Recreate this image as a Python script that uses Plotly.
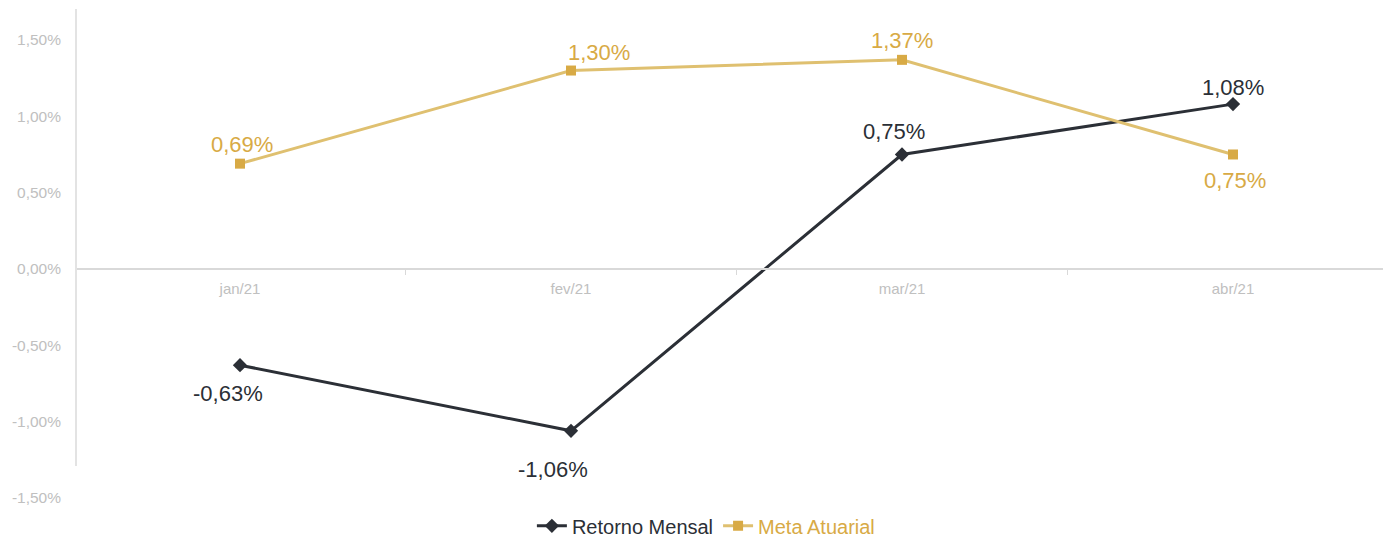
import plotly.graph_objects as go

categories = ["jan/21", "fev/21", "mar/21", "abr/21"]
retorno = [-0.63, -1.06, 0.75, 1.08]
meta = [0.69, 1.30, 1.37, 0.75]
y_ticks = [-1.5, -1.0, -0.5, 0.0, 0.5, 1.0, 1.5]

# label offsets in pixels (style only)
retorno_dx = [-12, -18, -8, 0]
retorno_dy = [-28, -39, 23, 17]
meta_dx = [2, 28, 0, 2]
meta_dy = [19, 18, 19, -26]

DARK = "#2b2f36"
GOLD_LINE = "#dfc070"
GOLD = "#d8aa45"
TICK = "#c0c0c0"
FONT = "Liberation Sans, Arial"

def fmt(v):
    return f"{v:.2f}".replace(".", ",") + "%"

xs = list(range(len(categories)))
fig = go.Figure()
fig.add_trace(go.Scatter(
    x=xs, y=retorno, mode="lines+markers",
    name=f"<span style='color:{DARK}'>Retorno Mensal</span>",
    line=dict(color=DARK, width=3),
    marker=dict(symbol="diamond", size=11, color=DARK),
))
fig.add_trace(go.Scatter(
    x=xs, y=meta, mode="lines+markers",
    name=f"<span style='color:{GOLD}'>Meta Atuarial</span>",
    line=dict(color=GOLD_LINE, width=3),
    marker=dict(symbol="square", size=10, color=GOLD),
))

annotations = []
for vals, dxs, dys, col in [(retorno, retorno_dx, retorno_dy, DARK), (meta, meta_dx, meta_dy, GOLD)]:
    for x, v, dx, dy in zip(xs, vals, dxs, dys):
        annotations.append(dict(
            x=x, y=v, xref="x", yref="y", text=fmt(v), showarrow=False,
            xanchor="center", yanchor="middle", xshift=dx, yshift=dy,
            font=dict(family=FONT, size=22, color=col),
        ))

ymin, ymax = -1.5, 1.703
fig.update_layout(
    width=1383, height=545,
    margin=dict(l=68, r=0, t=1, b=55, autoexpand=False),
    paper_bgcolor="white", plot_bgcolor="white",
    font=dict(family=FONT, size=15, color=TICK),
    showlegend=True,
    legend=dict(orientation="h", x=0.479, xanchor="center", y=-0.057, yanchor="middle",
                font=dict(family=FONT, size=20, color=DARK)),
    xaxis=dict(
        range=[(76 - 240) / 331, (1391 - 240) / 331],
        tickvals=xs, ticktext=categories,
        anchor="free", position=(0 - ymin) / (ymax - ymin),
        showline=True, linecolor="#d9d9d9", linewidth=1.5,
        showgrid=False, zeroline=False, ticks="", automargin=False,
        ticklabelstandoff=6,
        tickfont=dict(family=FONT, size=15, color=TICK),
        minor=dict(tickvals=[0.5, 1.5, 2.5], ticks="outside", ticklen=5,
                   tickcolor="#d9d9d9", tickwidth=1),
    ),
    yaxis=dict(
        range=[ymin, ymax],
        tickvals=y_ticks, ticktext=[fmt(v) for v in y_ticks],
        showgrid=False, zeroline=False, showline=False, automargin=False,
        ticks="", ticklabelstandoff=14,
        tickfont=dict(family=FONT, size=15.5, color=TICK),
    ),
    annotations=annotations,
    shapes=[dict(type="line", xref="paper", yref="y", x0=0, x1=0, y0=-1.29, y1=ymax,
                 line=dict(color="#e3e3e3", width=2))],
)

fig.write_html("out.html")
